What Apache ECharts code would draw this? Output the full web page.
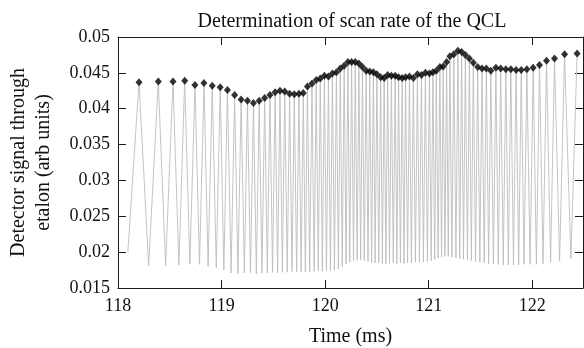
<!DOCTYPE html>
<html>
<head>
<meta charset="utf-8">
<script src="https://cdn.jsdelivr.net/npm/echarts@6/dist/echarts.min.js"></script>
<style>
html,body{margin:0;padding:0;background:#fff;}
#c{width:584px;height:348px;}
</style>
</head>
<body>
<div id="c"></div>
<script>
// Peak (marker) times in ms and detector signal at peaks
var peakTimes = [118.203, 118.389, 118.531, 118.644, 118.743, 118.830, 118.910, 118.987, 119.057, 119.126,
  119.189, 119.250, 119.308, 119.363, 119.416, 119.467, 119.517, 119.564, 119.610, 119.657,
  119.702, 119.747, 119.789, 119.829, 119.873, 119.914, 119.953, 119.993, 120.032, 120.070,
  120.109, 120.146, 120.184, 120.220, 120.256, 120.291, 120.326, 120.360, 120.396, 120.431,
  120.466, 120.500, 120.536, 120.570, 120.604, 120.640, 120.676, 120.709, 120.744, 120.777,
  120.814, 120.852, 120.891, 120.930, 120.968, 121.007, 121.041, 121.074, 121.108, 121.140,
  121.173, 121.205, 121.243, 121.282, 121.318, 121.354, 121.393, 121.431, 121.473, 121.515,
  121.557, 121.600, 121.649, 121.695, 121.745, 121.793, 121.844, 121.894, 121.948, 122.009,
  122.070, 122.138, 122.215, 122.312, 122.433];
var peakValues = [0.0437, 0.0438, 0.0438, 0.0439, 0.0433, 0.0436, 0.0432, 0.0430, 0.0426, 0.0419,
  0.0413, 0.0411, 0.0408, 0.0411, 0.0415, 0.0419, 0.0423, 0.0425, 0.0424, 0.0421,
  0.0420, 0.0421, 0.0422, 0.0431, 0.0435, 0.0440, 0.0442, 0.0446, 0.0445, 0.0449,
  0.0451, 0.0456, 0.0460, 0.0465, 0.0465, 0.0465, 0.0463, 0.0458, 0.0453, 0.0452,
  0.0451, 0.0448, 0.0444, 0.0443, 0.0447, 0.0446, 0.0446, 0.0444, 0.0443, 0.0444,
  0.0445, 0.0443, 0.0448, 0.0447, 0.0450, 0.0449, 0.0451, 0.0453, 0.0458, 0.0459,
  0.0465, 0.0473, 0.0476, 0.0481, 0.0479, 0.0475, 0.0470, 0.0464, 0.0458, 0.0456,
  0.0456, 0.0453, 0.0457, 0.0456, 0.0455, 0.0455, 0.0454, 0.0454, 0.0455, 0.0457,
  0.0461, 0.0467, 0.0470, 0.0476, 0.0477];
// Trough times and values of the etalon fringe signal
var troughTimes = [118.296, 118.460, 118.588, 118.694, 118.787, 118.870, 118.949, 119.022, 119.092, 119.158,
  119.220, 119.279, 119.336, 119.390, 119.442, 119.492, 119.541, 119.587, 119.634, 119.680,
  119.725, 119.768, 119.809, 119.851, 119.894, 119.934, 119.973, 120.013, 120.051, 120.090,
  120.128, 120.165, 120.202, 120.238, 120.274, 120.309, 120.343, 120.378, 120.414, 120.449,
  120.483, 120.518, 120.553, 120.587, 120.622, 120.658, 120.693, 120.727, 120.761, 120.796,
  120.833, 120.872, 120.911, 120.949, 120.988, 121.024, 121.058, 121.091, 121.124, 121.157,
  121.189, 121.224, 121.263, 121.300, 121.336, 121.374, 121.412, 121.452, 121.494, 121.536,
  121.579, 121.625, 121.672, 121.720, 121.769, 121.819, 121.869, 121.921, 121.979, 122.040,
  122.104, 122.177, 122.264, 122.373];
var troughValues = [0.0181, 0.0181, 0.0182, 0.0183, 0.0183, 0.0180, 0.0178, 0.0175, 0.0171, 0.0170,
  0.0171, 0.0171, 0.0170, 0.0171, 0.0171, 0.0172, 0.0171, 0.0172, 0.0172, 0.0173,
  0.0172, 0.0173, 0.0172, 0.0173, 0.0173, 0.0174, 0.0173, 0.0174, 0.0174, 0.0175,
  0.0177, 0.0180, 0.0183, 0.0186, 0.0188, 0.0189, 0.0189, 0.0188, 0.0187, 0.0186,
  0.0185, 0.0185, 0.0184, 0.0184, 0.0184, 0.0185, 0.0184, 0.0185, 0.0184, 0.0185,
  0.0185, 0.0186, 0.0186, 0.0186, 0.0187, 0.0188, 0.0190, 0.0192, 0.0193, 0.0194,
  0.0194, 0.0193, 0.0192, 0.0191, 0.0190, 0.0189, 0.0188, 0.0187, 0.0186, 0.0185,
  0.0184, 0.0183, 0.0183, 0.0182, 0.0182, 0.0182, 0.0182, 0.0183, 0.0183, 0.0183,
  0.0184, 0.0186, 0.0188, 0.0191];
var startPoint = [118.095, 0.0200];

var xTickLabels = ['118', '119', '120', '121', '122'];
var yTickLabels = ['0.015', '0.02', '0.025', '0.03', '0.035', '0.04', '0.045', '0.05'];

var titleText = 'Determination of scan rate of the QCL';
var xName = 'Time (ms)';
var yName = 'Detector signal through\netalon (arb units)';

// Build the fringe trace: start, then peak/trough alternating
var trace = [startPoint];
for (var i = 0; i < peakTimes.length; i++) {
  trace.push([peakTimes[i], peakValues[i]]);
  if (i < troughTimes.length) trace.push([troughTimes[i], troughValues[i]]);
}
var peaks = peakTimes.map(function (t, i) { return [t, peakValues[i]]; });

var FONT = 'Liberation Serif';
var FS = 18;     // tick labels
var FN = 20;     // title and axis names
var axisColor = '#1a1a1a';
var xMin = 118, xMax = 122.49, yMin = 0.015, yMax = 0.05;

function xFmt(v) {
  var s = String(Math.round(v));
  return (Math.abs(v - Math.round(v)) < 1e-6 && xTickLabels.indexOf(s) >= 0) ? s : '';
}
function yFmt(v) {
  var s = String(+v.toFixed(3));
  return yTickLabels.indexOf(s) >= 0 ? s : '';
}

var chart = echarts.init(document.getElementById('c'), null, { renderer: 'canvas' });
chart.setOption({
  animation: false,
  backgroundColor: '#fff',
  title: {
    text: titleText,
    left: 347,
    top: 7,
    textAlign: 'center',
    textStyle: { fontFamily: FONT, fontSize: FN, fontWeight: 'normal', color: '#111' }
  },
  grid: { left: 118, top: 37, width: 465, height: 251, containLabel: false, outerBoundsMode: 'none' },
  xAxis: [{
    type: 'value', min: xMin, max: xMax, interval: 1, position: 'bottom',
    name: xName, nameLocation: 'middle', nameGap: 39,
    nameTextStyle: { fontFamily: FONT, fontSize: FN, color: '#111' },
    axisLine: { show: true, onZero: false, lineStyle: { color: axisColor, width: 1 } },
    axisTick: { show: true, inside: true, length: 8, lineStyle: { color: axisColor } },
    axisLabel: { show: true, margin: 9, formatter: xFmt, fontFamily: FONT, fontSize: FS, color: '#111' },
    splitLine: { show: false }
  }, {
    type: 'value', min: xMin, max: xMax, interval: 1, position: 'top',
    axisLine: { show: true, onZero: false, lineStyle: { color: axisColor, width: 1 } },
    axisTick: { show: true, inside: true, length: 8, lineStyle: { color: axisColor } },
    axisLabel: { show: false },
    splitLine: { show: false }
  }],
  yAxis: [{
    type: 'value', min: yMin, max: yMax, interval: 0.005, position: 'left',
    name: yName, nameLocation: 'middle', nameGap: 62, nameRotate: 90,
    nameTextStyle: { fontFamily: FONT, fontSize: FN, color: '#111', lineHeight: 25 },
    axisLine: { show: true, onZero: false, lineStyle: { color: axisColor, width: 1 } },
    axisTick: { show: true, inside: true, length: 8, lineStyle: { color: axisColor } },
    axisLabel: { show: true, margin: 8, formatter: yFmt, fontFamily: FONT, fontSize: FS, color: '#111' },
    splitLine: { show: false }
  }, {
    type: 'value', min: yMin, max: yMax, interval: 0.005, position: 'right',
    axisLine: { show: true, onZero: false, lineStyle: { color: axisColor, width: 1 } },
    axisTick: { show: true, inside: true, length: 8, lineStyle: { color: axisColor } },
    axisLabel: { show: false },
    splitLine: { show: false }
  }],
  series: [{
    type: 'line',
    xAxisIndex: 0, yAxisIndex: 0,
    data: trace,
    showSymbol: false,
    symbol: 'none',
    lineStyle: { color: '#bdbdbd', width: 0.9 },
    clip: true,
    z: 2
  }, {
    type: 'scatter',
    xAxisIndex: 0, yAxisIndex: 0,
    data: peaks,
    symbol: 'diamond',
    symbolSize: [7, 8],
    itemStyle: { color: '#000' },
    z: 3
  }]
});
</script>
</body>
</html>
